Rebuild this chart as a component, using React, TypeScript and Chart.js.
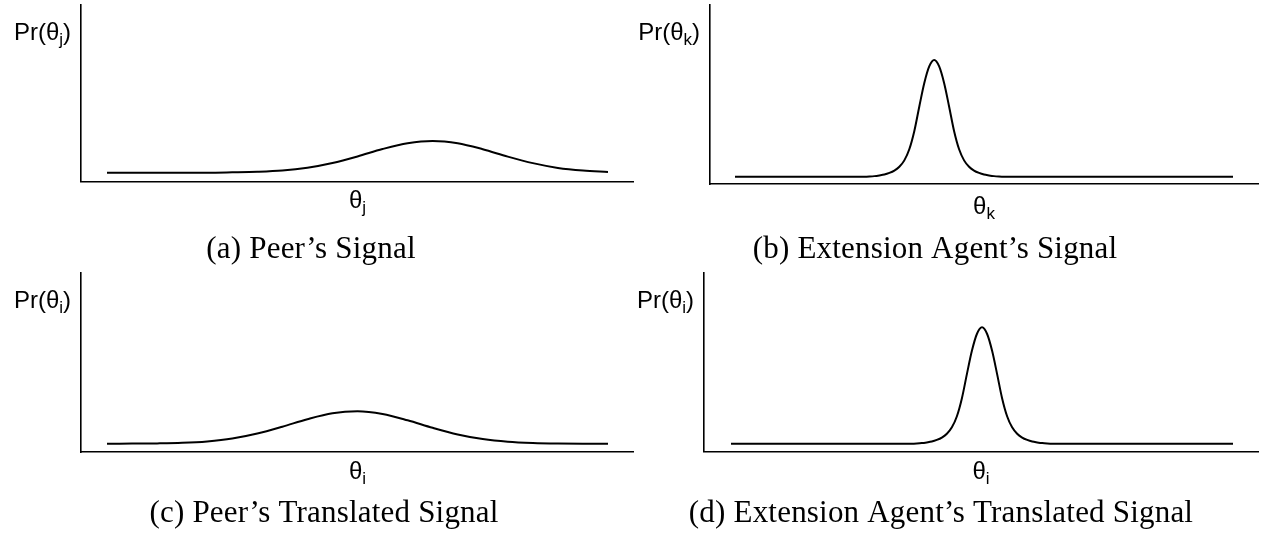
import React, { useEffect, useRef } from "react";
import { Chart, registerables } from "chart.js";

Chart.register(...registerables);

// ---- data ----
const peerX = [0, 5, 10, 15, 20, 25, 30, 35, 40, 45, 50, 55, 60, 65, 70, 75, 80, 85, 90, 95, 100];
const peerSignal = [0.05, 0.05, 0.05, 0.05, 0.05, 0.052, 0.055, 0.062, 0.078, 0.105, 0.142, 0.184, 0.217, 0.23, 0.217, 0.183, 0.141, 0.104, 0.077, 0.062, 0.054];
const peerTranslated = [0.046, 0.047, 0.048, 0.051, 0.059, 0.075, 0.103, 0.141, 0.183, 0.216, 0.227, 0.212, 0.177, 0.135, 0.098, 0.072, 0.057, 0.05, 0.047, 0.046, 0.046];

const agentX = [0, 10, 20, 26, 27, 28, 29, 30, 31, 32, 33, 34, 35, 36, 37, 38, 39, 40, 41, 42, 43, 44, 45, 46, 47, 48, 49, 50, 51, 52, 53, 54, 60, 70, 85, 100];
const agentSignal = [0.041, 0.041, 0.041, 0.041, 0.042, 0.044, 0.048, 0.053, 0.062, 0.075, 0.096, 0.132, 0.194, 0.295, 0.432, 0.563, 0.657, 0.693, 0.657, 0.563, 0.432, 0.295, 0.194, 0.132, 0.096, 0.075, 0.062, 0.053, 0.048, 0.044, 0.042, 0.041, 0.041, 0.041, 0.041, 0.041];

const agentTranslatedX = [0, 15, 25, 32, 36, 37, 38, 39, 40, 41, 42, 43, 44, 45, 46, 47, 48, 49, 50, 51, 52, 53, 54, 55, 56, 57, 58, 59, 60, 61, 62, 63, 64, 70, 80, 90, 100];
const agentTranslated = [0.045, 0.045, 0.045, 0.045, 0.045, 0.046, 0.048, 0.052, 0.057, 0.066, 0.079, 0.1, 0.136, 0.198, 0.299, 0.435, 0.565, 0.659, 0.695, 0.659, 0.565, 0.435, 0.299, 0.198, 0.136, 0.1, 0.079, 0.066, 0.057, 0.052, 0.048, 0.046, 0.045, 0.045, 0.045, 0.045, 0.045];

const captions = [
  "(a) Peer\u2019s Signal",
  "(b) Extension Agent\u2019s Signal",
  "(c) Peer\u2019s Translated Signal",
  "(d) Extension Agent\u2019s Translated Signal",
];
const subscripts = ["j", "k", "i", "i"];

// ---- layout (not data) ----
type PanelCfg = {
  xs: number[];
  ys: number[];
  sub: string;
  caption: string;
  left: number;
  top: number;
  width: number;
  height: number;
  pad: { left: number; top: number; right: number; bottom: number };
  xMin: number;
  xMax: number;
  xLabelDy: number;
  captionX: number;
  captionY: number;
};

const panels: PanelCfg[] = [
  {
    xs: peerX, ys: peerSignal, sub: subscripts[0], caption: captions[0],
    left: 0, top: 0, width: 634, height: 266,
    pad: { left: 81, top: 5, right: 0, bottom: 84.5 },
    xMin: -5.19, xMax: 105.19, xLabelDy: 26.5, captionX: 311, captionY: 258,
  },
  {
    xs: agentX, ys: agentSignal, sub: subscripts[1], caption: captions[1],
    left: 634, top: 0, width: 634, height: 266,
    pad: { left: 76, top: 5, right: 10, bottom: 82 },
    xMin: -5.02, xMax: 105.02, xLabelDy: 29.5, captionX: 301, captionY: 258,
  },
  {
    xs: peerX, ys: peerTranslated, sub: subscripts[2], caption: captions[2],
    left: 0, top: 266, width: 634, height: 267,
    pad: { left: 81, top: 6.7, right: 0, bottom: 81 },
    xMin: -5.19, xMax: 105.19, xLabelDy: 26.5, captionX: 324, captionY: 256,
  },
  {
    xs: agentTranslatedX, ys: agentTranslated, sub: subscripts[3], caption: captions[3],
    left: 634, top: 266, width: 634, height: 267,
    pad: { left: 70, top: 6.7, right: 10, bottom: 81.3 },
    xMin: -5.38, xMax: 104.98, xLabelDy: 27.5, captionX: 307, captionY: 256,
  },
];

const SANS = '"Liberation Sans", Arial, Helvetica, sans-serif';
const SERIF = '"Liberation Serif", "Times New Roman", serif';

function makeLabelPlugin(p: PanelCfg) {
  return {
    id: "panelLabels",
    afterDraw(chart: any) {
      const ctx = chart.ctx as CanvasRenderingContext2D;
      const ca = chart.chartArea;
      ctx.save();
      ctx.fillStyle = "#000";
      ctx.textBaseline = "alphabetic";
      ctx.textAlign = "left";
      const mainFont = `24px ${SANS}`;
      const subFont = `17px ${SANS}`;

      // y-axis label  Pr(θ_sub)
      ctx.font = mainFont;
      const wA = ctx.measureText("Pr(\u03b8").width;
      const wC = ctx.measureText(")").width;
      ctx.font = subFont;
      const wB = ctx.measureText(p.sub).width;
      const yBase = ca.top + 35;
      let x = ca.left - 10 - (wA + wB + wC);
      ctx.font = mainFont;
      ctx.fillText("Pr(\u03b8", x, yBase);
      x += wA;
      ctx.font = subFont;
      ctx.fillText(p.sub, x, yBase + 5);
      x += wB;
      ctx.font = mainFont;
      ctx.fillText(")", x, yBase);

      // x-axis label θ_sub
      ctx.font = mainFont;
      const wT = ctx.measureText("\u03b8").width;
      ctx.font = subFont;
      const wS = ctx.measureText(p.sub).width;
      const cx = (ca.left + ca.right) / 2;
      const xb = ca.bottom + p.xLabelDy;
      let x2 = cx - (wT + wS) / 2;
      ctx.font = mainFont;
      ctx.fillText("\u03b8", x2, xb);
      x2 += wT;
      ctx.font = subFont;
      ctx.fillText(p.sub, x2, xb + 5);

      // caption
      ctx.font = `31px ${SERIF}`;
      try { (ctx as any).letterSpacing = "0.2px"; } catch (e) { /* ignore */ }
      ctx.textAlign = "center";
      ctx.fillText(p.caption, p.captionX, p.captionY);
      ctx.restore();
    },
  };
}

function Panel({ cfg }: { cfg: PanelCfg }) {
  const ref = useRef<HTMLCanvasElement | null>(null);
  useEffect(() => {
    if (!ref.current) return;
    const points = cfg.xs.map((x, i) => ({ x, y: cfg.ys[i] }));
    const chart = new Chart(ref.current, {
      type: "line",
      data: {
        datasets: [
          {
            data: points,
            borderColor: "#000",
            borderWidth: 2,
            pointRadius: 0,
            fill: false,
            cubicInterpolationMode: "monotone",
          },
        ],
      },
      options: {
        responsive: false,
        animation: false,
        devicePixelRatio: 1,
        layout: { padding: cfg.pad },
        plugins: { legend: { display: false }, tooltip: { enabled: false }, title: { display: false } },
        scales: {
          x: {
            type: "linear",
            min: cfg.xMin,
            max: cfg.xMax,
            grid: { display: false, drawTicks: false },
            ticks: { display: false },
            border: { display: true, color: "#000", width: 1.6 },
            afterFit: (s: any) => { s.height = 0; },
          },
          y: {
            type: "linear",
            min: 0,
            max: 1,
            grid: { display: false, drawTicks: false },
            ticks: { display: false },
            border: { display: true, color: "#000", width: 1.6 },
            afterFit: (s: any) => { s.width = 0; },
          },
        },
      } as any,
      plugins: [makeLabelPlugin(cfg)],
    });
    return () => chart.destroy();
  }, [cfg]);
  return (
    <canvas
      ref={ref}
      width={cfg.width}
      height={cfg.height}
      style={{ position: "absolute", left: cfg.left, top: cfg.top, width: cfg.width, height: cfg.height }}
    />
  );
}

export default function App() {
  return (
    <div style={{ position: "fixed", left: 0, top: 0, width: 1268, height: 533, background: "#fff", overflow: "hidden" }}>
      {panels.map((p, i) => (
        <Panel key={i} cfg={p} />
      ))}
    </div>
  );
}
